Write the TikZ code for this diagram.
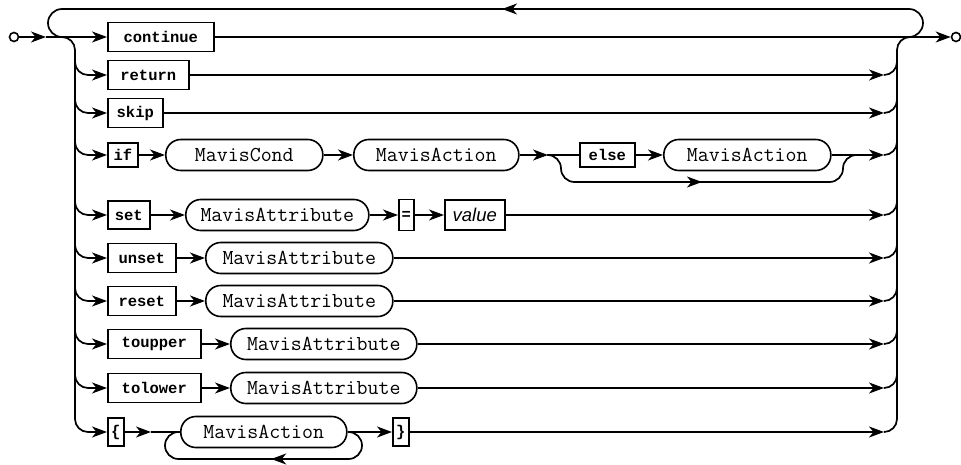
\documentclass[tikz,border=0pt]{standalone}
\usepackage{fontspec}
\newfontfamily\valfont{Liberation Sans}
\newfontfamily\kwfont{Liberation Mono}
\usetikzlibrary{arrows.meta,decorations.markings}
\tikzset{
  rr/.style={line width=1.7pt, line join=round},
  arr/.style={rr, -{Stealth[length=15pt,width=11pt,inset=4.5pt]}},
  kw/.style={draw, line width=1.6pt, inner sep=0pt, anchor=west, minimum height=29pt,
    font=\fontsize{15.5}{16}\selectfont\kwfont\bfseries},
  nt/.style={draw, line width=1.6pt, inner sep=0pt, anchor=west, minimum height=31pt,
    rounded corners=15pt, font=\fontsize{21.3}{22}\selectfont\ttfamily},
  valbox/.style={draw, line width=1.6pt, inner sep=0pt, anchor=west, minimum height=30pt,
    font=\fontsize{18.5}{19}\selectfont\valfont\itshape},
  term/.style={circle, draw, line width=1.6pt, fill=white, inner sep=0pt, minimum size=9pt},
  midarr/.style={postaction={decorate}, decoration={markings,
    mark=at position #1 with {\arrow{Stealth[length=15pt,width=11pt,inset=4.5pt]}}}},
}
\begin{document}
\begin{tikzpicture}[x=1pt,y=-1pt]
\useasboundingbox (0,0) rectangle (961,465);
% terminals
\node[term] (s) at (14,37) {};
\node[term] (e) at (956,37) {};
% nodes
\node[kw, minimum width=106pt] (kcont) at (107,37) {continue};
\node[kw, minimum width=81pt] (kret) at (107,75) {return};
\node[kw, minimum width=55pt] (kskip) at (107,113) {skip};
\node[kw, minimum width=30pt, minimum height=24pt] (kif) at (107,155) {if};
\node[nt, minimum width=157pt] (ncond) at (165,155) {MavisCond};
\node[nt, minimum width=165pt] (nact1) at (353,155) {MavisAction};
\node[kw, minimum width=55pt, minimum height=24pt] (kelse) at (579,155) {else};
\node[nt, minimum width=167pt] (nact2) at (663,155) {MavisAction};
\node[kw, minimum width=42pt, minimum height=28pt] (kset) at (107,215) {set};
\node[nt, minimum width=183pt] (nattr1) at (185,215) {MavisAttribute};
\node[kw, minimum width=15pt, minimum height=31pt] (keq) at (398,215) {=};
\node[valbox, minimum width=60pt] (vval) at (444,215) {value};
\node[kw, minimum width=68pt] (kunset) at (107,258) {unset};
\node[nt, minimum width=187pt] (nattr2) at (205,258) {MavisAttribute};
\node[kw, minimum width=68pt] (kreset) at (107,301) {reset};
\node[nt, minimum width=187pt] (nattr3) at (205,301) {MavisAttribute};
\node[kw, minimum width=93pt] (ktoup) at (107,344) {toupper};
\node[nt, minimum width=186pt] (nattr4) at (230,344) {MavisAttribute};
\node[kw, minimum width=93pt] (ktolo) at (107,388) {tolower};
\node[nt, minimum width=186pt] (nattr5) at (230,388) {MavisAttribute};
\node[kw, minimum width=16pt, minimum height=28pt] (klb) at (107,432) {\{};
\node[nt, minimum width=166pt] (nact3) at (180,432) {MavisAction};
\node[kw, minimum width=16pt, minimum height=28pt] (krb) at (392,432) {\}};
% junction coordinates
\coordinate (jL) at (46,37);
\coordinate (jR) at (911,37);
\coordinate (jA) at (548,155);
\coordinate (jB) at (856,155);
\coordinate (jC) at (151,432);
\coordinate (jD) at (178,432);
\coordinate (jE) at (349,432);
% entry and main line
\draw[arr] (s) -- (jL);
\draw[arr] (jL) -- (kcont);
\draw[arr] (kcont) -- (e);
% top loop
\draw[rr, rounded corners=14pt, midarr=0.49] (895,37) -- (923,37) -- (923,9) -- (48,9) -- (48,37) -- (62,37);
% left rail
\draw[arr, rounded corners=13pt] (jL) -- (75,37) -- (75,432) -- (klb);
\foreach \r/\n in {75/kret,113/kskip,155/kif,215/kset,258/kunset,301/kreset,344/ktoup,388/ktolo}
  \draw[arr, rounded corners=13pt] (75,\r-13) -- (75,\r) -- (\n);
% right rail
\draw[rr, rounded corners=13pt] (884,432) -- (897,432) -- (897,37) -- (jR);
\foreach \r in {75,113,155,215,258,301,344,388}
  \draw[rr, rounded corners=13pt] (884,\r) -- (897,\r) -- (897,\r-13);
% row ends
\draw[arr] (kret) -- (884,75);
\draw[arr] (kskip) -- (884,113);
\draw[arr] (nact2) -- (884,155);
\draw[arr] (vval) -- (884,215);
\draw[arr] (nattr2) -- (884,258);
\draw[arr] (nattr3) -- (884,301);
\draw[arr] (nattr4) -- (884,344);
\draw[arr] (nattr5) -- (884,388);
\draw[arr] (krb) -- (884,432);
% if row
\draw[arr] (kif) -- (ncond);
\draw[arr] (ncond) -- (nact1);
\draw[arr] (nact1) -- (jA);
\draw[rr] (jA) -- (kelse);
\draw[arr] (kelse) -- (nact2);
\draw[rr, rounded corners=13.5pt, midarr=0.5] (jA) -- (561,155) -- (561,182) -- (843,182) -- (843,155) -- (jB);
% set row
\draw[arr] (kset) -- (nattr1);
\draw[arr] (nattr1) -- (keq);
\draw[arr] (keq) -- (vval);
% attribute rows
\draw[arr] (kunset) -- (nattr2);
\draw[arr] (kreset) -- (nattr3);
\draw[arr] (ktoup) -- (nattr4);
\draw[arr] (ktolo) -- (nattr5);
% brace row
\draw[arr] (klb) -- (jC);
\draw[rr] (jC) -- (nact3);
\draw[arr] (nact3) -- (krb);
\draw[rr, rounded corners=13.5pt, midarr=0.47] (jE) -- (362,432) -- (362,459) -- (165,459) -- (165,432) -- (jD);
\end{tikzpicture}
\end{document}
